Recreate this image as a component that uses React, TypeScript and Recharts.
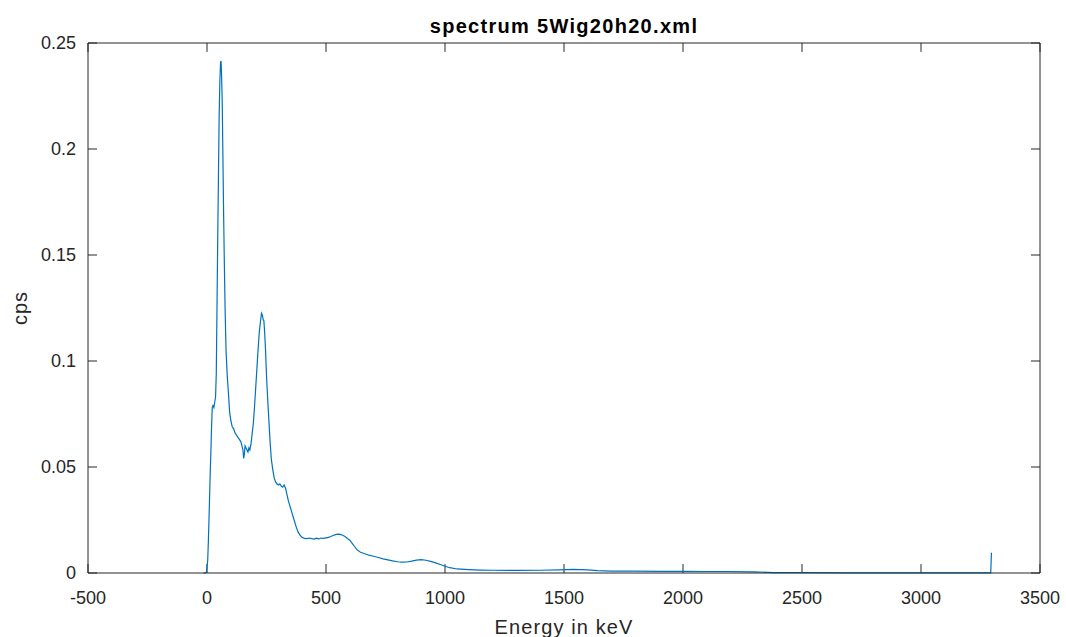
import { LineChart, Line, XAxis, YAxis, Label, ReferenceLine } from "recharts";

const title = "spectrum 5Wig20h20.xml";
const xLabel = "Energy in keV";
const yLabel = "cps";

const xTicks = [-500, 0, 500, 1000, 1500, 2000, 2500, 3000, 3500];
const yTicks = [0, 0.05, 0.1, 0.15, 0.2, 0.25];

// energy (keV)
const energy = [
    -15, -8, -2, 3, 6, 10, 13, 16, 19, 22, 25, 29, 33, 36, 39, 42, 45, 48, 51, 54,
    57, 59, 61, 64, 67, 70, 73, 76, 80, 85, 90, 95, 100, 106, 112, 118, 124, 130, 136, 142,
    147, 151, 154, 157, 160, 164, 168, 172, 176, 180, 185, 190, 195, 200, 205, 210, 215, 220, 225, 229,
    233, 236, 239, 242, 246, 250, 255, 260, 265, 270, 276, 282, 288, 294, 300, 306, 312, 318, 324, 330,
    336, 342, 350, 358, 366, 374, 382, 390, 400, 410, 420, 430, 440, 450, 460, 470, 480, 490, 500, 510,
    520, 530, 540, 550, 560, 570, 580, 590, 600, 610, 620, 630, 645, 660, 680, 700, 720, 740, 760, 780,
    800, 820, 840, 860, 880, 900, 920, 940, 960, 980, 1000, 1020, 1050, 1100, 1150, 1200, 1300, 1400, 1480, 1540,
    1600, 1640, 1700, 1800, 1900, 2000, 2100, 2200, 2300, 2380, 2500, 2700, 2900, 3100, 3293, 3296,
];

// counts per second
const cps = [
    0, 0, 0.0005, 0.006, 0.016, 0.032, 0.045, 0.056, 0.068, 0.078, 0.079, 0.078, 0.081, 0.083, 0.094, 0.125, 0.157, 0.186, 0.215, 0.232,
    0.241, 0.2415, 0.236, 0.222, 0.195, 0.168, 0.145, 0.125, 0.105, 0.093, 0.085, 0.076, 0.072, 0.069, 0.068, 0.066, 0.065, 0.064, 0.063, 0.062,
    0.06, 0.058, 0.054, 0.056, 0.06, 0.059, 0.058, 0.057, 0.059, 0.058, 0.061, 0.066, 0.071, 0.079, 0.088, 0.097, 0.106, 0.114, 0.119, 0.1225,
    0.1215, 0.1195, 0.119, 0.114, 0.105, 0.093, 0.082, 0.072, 0.062, 0.054, 0.049, 0.045, 0.043, 0.042, 0.0415, 0.042, 0.041, 0.0405, 0.0415, 0.04,
    0.037, 0.034, 0.031, 0.028, 0.025, 0.022, 0.0195, 0.018, 0.0168, 0.0163, 0.0162, 0.0165, 0.0162, 0.016, 0.0164, 0.0161, 0.0165, 0.0163, 0.0166, 0.0168,
    0.0172, 0.0177, 0.0181, 0.0183, 0.0182, 0.0178, 0.0172, 0.0163, 0.0155, 0.014, 0.0125, 0.011, 0.0098, 0.0092, 0.0084, 0.0079, 0.0073, 0.0067, 0.0062, 0.0057,
    0.0053, 0.0051, 0.0052, 0.0056, 0.0061, 0.0063, 0.006, 0.0055, 0.0048, 0.004, 0.0032, 0.0025, 0.0019, 0.0016, 0.0014, 0.0013, 0.0012, 0.0013, 0.0015, 0.0017,
    0.0015, 0.0011, 0.0009, 0.0009, 0.0008, 0.0008, 0.0007, 0.0007, 0.0005, 0.0002, 0.0002, 0.0001, 0.0001, 0.0001, 0.0001, 0.0096,
];

const data = energy.map((e, i) => ({ e, cps: cps[i] }));

const axisColor = "#262626";
const xMin = -500, xMax = 3500, yMin = 0, yMax = 0.25;
// inward tick length (~9px) in data units
const tickX = 38;
const tickY = 0.0042;

export default function App() {
    return (
        <div style={{ position: "absolute", left: 0, top: 0, width: 1066, height: 637, fontFamily: "'Liberation Sans', Arial, sans-serif", background: "#fff" }}>
            <div
                style={{
                    position: "absolute",
                    left: 264,
                    width: 600,
                    top: 16,
                    lineHeight: "20px",
                    fontSize: 20,
                    fontWeight: "bold",
                    letterSpacing: "1.3px",
                    textAlign: "center",
                    color: "#000",
                }}
            >
                {title}
            </div>
            <LineChart width={1066} height={637} data={data} margin={{ top: 43, right: 26, left: 0, bottom: 0 }}>
                <XAxis
                    xAxisId="b"
                    type="number"
                    dataKey="e"
                    domain={[xMin, xMax]}
                    ticks={xTicks}
                    interval={0}
                    height={64}
                    tickSize={-9}
                    tickMargin={27}
                    tickLine={false}
                    stroke={axisColor}
                    tick={{ fill: axisColor, fontSize: 18 }}
                >
                    <Label value={xLabel} position="insideBottom" offset={3} fill={axisColor} fontSize={20} style={{ letterSpacing: "1.1px" }} />
                </XAxis>
                <YAxis
                    yAxisId="l"
                    type="number"
                    domain={[yMin, yMax]}
                    ticks={yTicks}
                    interval={0}
                    width={88}
                    tickSize={-9}
                    tickMargin={21}
                    tickLine={false}
                    stroke={axisColor}
                    tick={{ fill: axisColor, fontSize: 18 }}
                >
                    <Label value={yLabel} angle={-90} position="insideLeft" offset={20} fill={axisColor} fontSize={20} style={{ textAnchor: "middle", letterSpacing: "1px" }} />
                </YAxis>

                {/* box: top and right edges */}
                <ReferenceLine xAxisId="b" yAxisId="l" y={yMax} stroke={axisColor} />
                <ReferenceLine xAxisId="b" yAxisId="l" x={xMax} stroke={axisColor} />

                {/* inward ticks on all four sides */}
                {xTicks.map((t) => (
                    <ReferenceLine key={"xb" + t} xAxisId="b" yAxisId="l" segment={[{ x: t, y: yMin }, { x: t, y: yMin + tickY }]} stroke={axisColor} />
                ))}
                {xTicks.map((t) => (
                    <ReferenceLine key={"xt" + t} xAxisId="b" yAxisId="l" segment={[{ x: t, y: yMax }, { x: t, y: yMax - tickY }]} stroke={axisColor} />
                ))}
                {yTicks.map((t) => (
                    <ReferenceLine key={"yl" + t} xAxisId="b" yAxisId="l" segment={[{ x: xMin, y: t }, { x: xMin + tickX, y: t }]} stroke={axisColor} />
                ))}
                {yTicks.map((t) => (
                    <ReferenceLine key={"yr" + t} xAxisId="b" yAxisId="l" segment={[{ x: xMax, y: t }, { x: xMax - tickX, y: t }]} stroke={axisColor} />
                ))}

                <Line
                    xAxisId="b"
                    yAxisId="l"
                    type="linear"
                    dataKey="cps"
                    stroke="#0072BD"
                    strokeWidth={1.2}
                    dot={false}
                    isAnimationActive={false}
                />
            </LineChart>
        </div>
    );
}
